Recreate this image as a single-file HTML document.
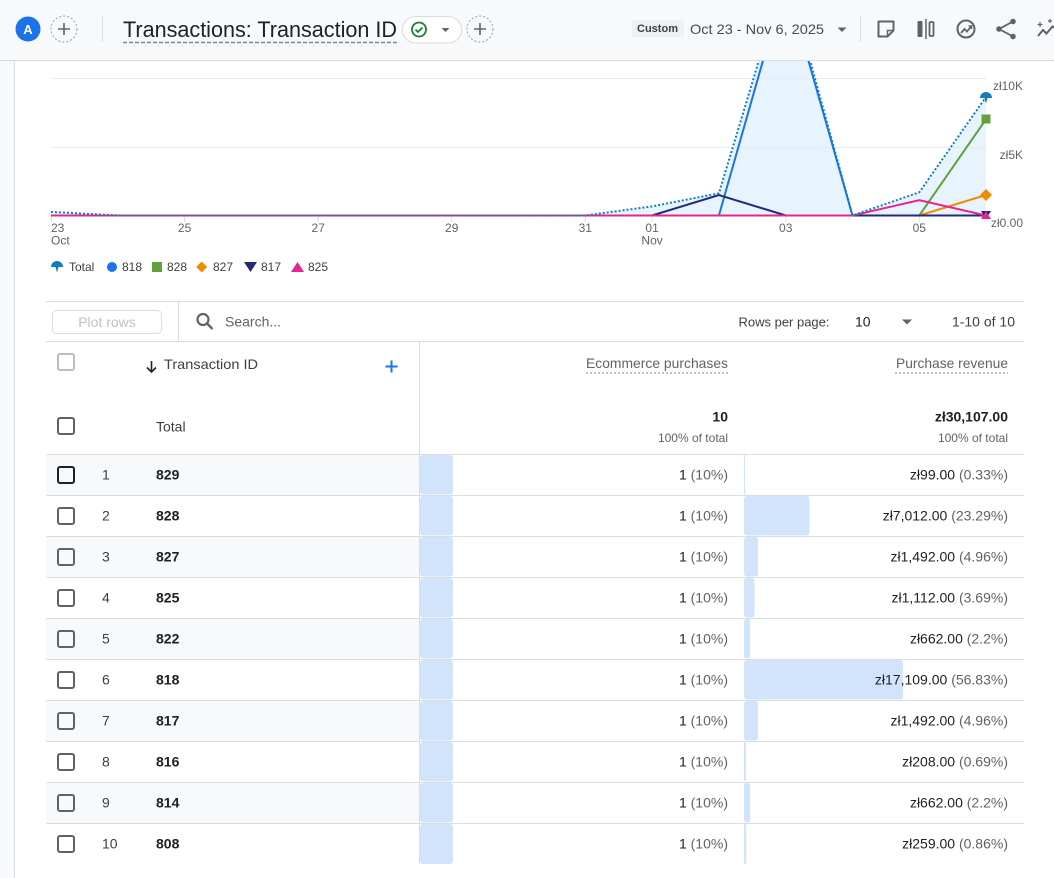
<!DOCTYPE html>
<html><head><meta charset="utf-8"><style>
html,body{margin:0;padding:0;background:#fff;}
svg{display:block;font-family:"Liberation Sans",Arial,sans-serif;}
</style></head><body>
<svg width="1054" height="878" viewBox="0 0 1054 878" xmlns="http://www.w3.org/2000/svg">
<defs><clipPath id="cp"><rect x="15" y="61" width="1039" height="200"/></clipPath></defs>
<!-- backgrounds -->
<rect x="0" y="0" width="1054" height="878" fill="#ffffff"/>
<rect x="0" y="0" width="1054" height="60" fill="#f8f9fa"/>
<rect x="0" y="60" width="14" height="818" fill="#f8f9fa"/>
<line x1="0" y1="60.5" x2="1054" y2="60.5" stroke="#d9dbdf" stroke-width="1"/>
<line x1="14.5" y1="61" x2="14.5" y2="878" stroke="#dadce0" stroke-width="1"/>

<!-- header -->
<circle cx="28" cy="29" r="12.5" fill="#1a73e8"/>
<text x="28" y="34" font-size="13" font-weight="bold" fill="#fff" text-anchor="middle">A</text>
<circle cx="64" cy="29" r="13" fill="none" stroke="#9aa0a6" stroke-width="1" stroke-dasharray="2 2"/>
<path d="M58 29h12M64 23v12" stroke="#5f6368" stroke-width="1.6"/>
<line x1="102.5" y1="16" x2="102.5" y2="42" stroke="#dadce0"/>
<text x="123" y="37" font-size="22" fill="#202124" textLength="274" lengthAdjust="spacingAndGlyphs">Transactions: Transaction ID</text>
<line x1="123" y1="42.5" x2="397" y2="42.5" stroke="#80868b" stroke-width="1.5" stroke-dasharray="4 2"/>
<rect x="402.5" y="16.5" width="59" height="26.5" rx="13.25" fill="#fff" stroke="#dadce0"/>
<circle cx="419" cy="29.5" r="7" fill="none" stroke="#188038" stroke-width="1.8"/>
<path d="M415.5 29.5l2.5 2.5 4.5-4.5" fill="none" stroke="#188038" stroke-width="1.8"/>
<path d="M441.5 28h8l-4 4z" fill="#5f6368"/>
<circle cx="480" cy="29" r="13" fill="none" stroke="#9aa0a6" stroke-width="1" stroke-dasharray="2 2"/>
<path d="M474 29h12M480 23v12" stroke="#5f6368" stroke-width="1.6"/>

<rect x="632" y="20" width="52" height="17" fill="#eef0f2"/>
<text x="637" y="32" font-size="11" font-weight="bold" fill="#3c4043" textLength="41" lengthAdjust="spacingAndGlyphs">Custom</text>
<text x="690" y="34" font-size="14" fill="#474a4e" textLength="134" lengthAdjust="spacingAndGlyphs">Oct 23 - Nov 6, 2025</text>
<path d="M837.5 27.5h9l-4.5 4.5z" fill="#5f6368"/>
<line x1="860.5" y1="16" x2="860.5" y2="42" stroke="#dadce0"/>
<!-- icon note -->
<path d="M878.5 21.5h15v9l-6 6h-9z" fill="none" stroke="#5f6368" stroke-width="2" stroke-linejoin="round"/>
<path d="M893.5 30.5h-6v6" fill="none" stroke="#5f6368" stroke-width="1.5"/>
<!-- icon compare -->
<rect x="917.5" y="21" width="5" height="16" rx="1" fill="#5f6368"/>
<line x1="926" y1="19" x2="926" y2="39" stroke="#5f6368" stroke-width="1.5"/>
<rect x="929.5" y="22" width="4" height="14" rx="1" fill="none" stroke="#5f6368" stroke-width="1.8"/>
<!-- icon insights circle -->
<circle cx="966" cy="29" r="8.5" fill="none" stroke="#5f6368" stroke-width="2"/>
<path d="M961 33l3.5-4 2.5 2.5 4-5" fill="none" stroke="#5f6368" stroke-width="1.8"/>
<path d="M968.5 26h3v3" fill="none" stroke="#5f6368" stroke-width="1.6"/>
<!-- share -->
<circle cx="1013" cy="21.5" r="2.8" fill="#5f6368"/>
<circle cx="999" cy="29" r="2.8" fill="#5f6368"/>
<circle cx="1013" cy="36.5" r="2.8" fill="#5f6368"/>
<path d="M1013 21.5L999 29l14 7.5" fill="none" stroke="#5f6368" stroke-width="1.8"/>
<!-- sparkle line -->
<path d="M1038 36l5-6 3.5 3.5 6-7 3 2" fill="none" stroke="#5f6368" stroke-width="2"/>
<path d="M1040 22v5M1037.5 24.5h5M1050 19v4M1048 21h4" stroke="#5f6368" stroke-width="1.2"/>

<!-- chart -->
<g clip-path="url(#cp)">
<polygon fill="#e8f4fd" points="51,211.9 117.8,215.5 585.3,215.5 652.1,206.4 718.9,193.3 785.7,-28.3 852.5,215.5 919.3,192.3 986,97 986,215.5 51,215.5"/>
<line x1="51" y1="78.5" x2="986" y2="78.5" stroke="#e8eaed"/>
<line x1="51" y1="147.5" x2="986" y2="147.5" stroke="#e8eaed"/>
<g stroke="#dadce0" stroke-width="1">
<line x1="51.5" y1="216" x2="51.5" y2="222"/><line x1="184.6" y1="216" x2="184.6" y2="222"/><line x1="318.2" y1="216" x2="318.2" y2="222"/><line x1="451.7" y1="216" x2="451.7" y2="222"/><line x1="585.3" y1="216" x2="585.3" y2="222"/><line x1="652.1" y1="216" x2="652.1" y2="222"/><line x1="785.7" y1="216" x2="785.7" y2="222"/><line x1="919.3" y1="216" x2="919.3" y2="222"/>
</g>
<polyline fill="none" stroke="#63a03d" stroke-width="2" points="51,215.5 919.3,215.5 986,119.3"/>
<polyline fill="none" stroke="#ef8c00" stroke-width="2" points="51,215.5 919.3,215.5 986,195"/>
<polyline fill="none" stroke="#1a73e8" stroke-width="2" points="51,215.5 718.9,215.5 785.7,-19.2 852.5,215.5 986,215.5"/>
<polyline fill="none" stroke="#202a78" stroke-width="2" points="51,215.5 652.1,215.5 718.9,195 785.7,215.5 986,215.5"/>
<polyline fill="none" stroke="#e52592" stroke-width="2" points="51,215.5 852.5,215.5 919.3,200.2 986,215.5"/>
<polyline fill="none" stroke="#127eb8" stroke-width="2" stroke-dasharray="2 2" points="51,211.9 117.8,215.5 585.3,215.5 652.1,206.4 718.9,193.3 785.7,-28.3 852.5,215.5 919.3,192.3 986,97"/>
</g>
<!-- markers -->
<path d="M980 98A6 6 0 0 1 992 98L987.5 98 986 103.5 984.5 98Z" fill="#127eb8"/>
<rect x="981.5" y="114.5" width="9" height="9" fill="#63a03d"/>
<path d="M986 189l6 6-6 6-6-6z" fill="#ef8c00"/>
<path d="M981 211h10l-5 8z" fill="#202a78"/>
<path d="M981 219h10l-5-8z" fill="#e52592"/>

<!-- axis labels -->
<g font-size="12" fill="#5f6368">
<text x="1023" y="90" text-anchor="end">zł10K</text>
<text x="1023" y="159" text-anchor="end">zł5K</text>
<text x="1023" y="227" text-anchor="end">zł0.00</text>
<text x="51" y="232">23</text>
<text x="51" y="244.5">Oct</text>
<text x="184.6" y="232" text-anchor="middle">25</text>
<text x="318.2" y="232" text-anchor="middle">27</text>
<text x="451.7" y="232" text-anchor="middle">29</text>
<text x="585.3" y="232" text-anchor="middle">31</text>
<text x="652.1" y="232" text-anchor="middle">01</text>
<text x="652.1" y="244.5" text-anchor="middle">Nov</text>
<text x="785.7" y="232" text-anchor="middle">03</text>
<text x="919.3" y="232" text-anchor="middle">05</text>
</g>
<!-- legend -->
<path d="M51 267A6 6 0 0 1 63 267L58.5 267 57 272.5 55.5 267Z" fill="#127eb8"/>
<circle cx="112" cy="267" r="5" fill="#1a73e8"/>
<rect x="152" y="262" width="10" height="10" fill="#63a03d"/>
<path d="M201.7 261.5l5.5 5.5-5.5 5.5-5.5-5.5z" fill="#ef8c00"/>
<path d="M244 262h13l-6.5 10z" fill="#202a78"/>
<path d="M291 272h13l-6.5-10z" fill="#e52592"/>
<g font-size="12" fill="#3c4043">
<text x="69" y="271">Total</text>
<text x="122" y="271">818</text>
<text x="167" y="271">828</text>
<text x="213" y="271">827</text>
<text x="261" y="271">817</text>
<text x="308" y="271">825</text>
</g>

<!-- table toolbar -->
<line x1="46" y1="301.5" x2="1024" y2="301.5" stroke="#dadce0"/>
<line x1="46" y1="341.5" x2="1024" y2="341.5" stroke="#dadce0"/>
<line x1="178.5" y1="302" x2="178.5" y2="341" stroke="#dadce0"/>
<rect x="52.5" y="310.5" width="109" height="23" rx="4" fill="#fff" stroke="#dadce0"/>
<text x="107" y="327" font-size="14" fill="#bdc1c6" text-anchor="middle">Plot rows</text>
<circle cx="203" cy="319.5" r="5.5" fill="none" stroke="#5f6368" stroke-width="2.2"/>
<line x1="207" y1="323.5" x2="212.5" y2="329" stroke="#5f6368" stroke-width="2.4"/>
<text x="225" y="326.5" font-size="14" fill="#5f6368">Search...</text>
<text x="738.5" y="326.5" font-size="13" fill="#3c4043" textLength="91" lengthAdjust="spacingAndGlyphs">Rows per page:</text>
<text x="855" y="326.5" font-size="14" fill="#202124">10</text>
<path d="M902 319.5h10l-5 5z" fill="#5f6368"/>
<text x="1015" y="326.5" font-size="14" fill="#3c4043" text-anchor="end">1-10 of 10</text>

<!-- header row -->
<line x1="419.5" y1="342" x2="419.5" y2="864" stroke="#dadce0"/>
<rect x="58" y="354" width="16" height="16" rx="2" fill="none" stroke="#bdbdbd" stroke-width="2"/>
<path d="M151.5 361v11M147 367.5l4.5 4.5 4.5-4.5" fill="none" stroke="#202124" stroke-width="1.6"/>
<text x="164" y="369" font-size="14" fill="#3c4043" textLength="94" lengthAdjust="spacingAndGlyphs">Transaction ID</text>
<path d="M385.5 366.5h12M391.5 360.5v12" stroke="#1a73e8" stroke-width="2"/>
<text x="728" y="368" font-size="14" fill="#5f6368" text-anchor="end" textLength="142" lengthAdjust="spacingAndGlyphs">Ecommerce purchases</text>
<line x1="586" y1="373" x2="728" y2="373" stroke="#80868b" stroke-dasharray="2 2"/>
<text x="1008" y="368" font-size="14" fill="#5f6368" text-anchor="end" textLength="112" lengthAdjust="spacingAndGlyphs">Purchase revenue</text>
<line x1="895" y1="373" x2="1008" y2="373" stroke="#80868b" stroke-dasharray="2 2"/>

<rect x="58" y="418" width="16" height="16" rx="2" fill="none" stroke="#5f6368" stroke-width="2"/>
<text x="156" y="431.5" font-size="14" fill="#3c4043">Total</text>
<text x="728" y="421.5" font-size="14" font-weight="bold" fill="#202124" text-anchor="end">10</text>
<text x="728" y="442" font-size="12" fill="#5f6368" text-anchor="end">100% of total</text>
<text x="1008" y="421.5" font-size="14" font-weight="bold" fill="#202124" text-anchor="end">zł30,107.00</text>
<text x="1008" y="442" font-size="12" fill="#5f6368" text-anchor="end">100% of total</text>
<line x1="46" y1="454.5" x2="1024" y2="454.5" stroke="#dadce0"/>

<!-- rows -->
<g>
<rect x="46" y="455" width="373" height="40" fill="#f8f9fa"/>
<rect x="46" y="537" width="373" height="40" fill="#f8f9fa"/>
<rect x="46" y="619" width="373" height="40" fill="#f8f9fa"/>
<rect x="46" y="701" width="373" height="40" fill="#f8f9fa"/>
<rect x="46" y="783" width="373" height="40" fill="#f8f9fa"/>
</g>
<g fill="#d2e3fc">
<rect x="420" y="455" width="33" height="39.5" rx="3"/>
<rect x="420" y="496" width="33" height="39.5" rx="3"/>
<rect x="420" y="537" width="33" height="39.5" rx="3"/>
<rect x="420" y="578" width="33" height="39.5" rx="3"/>
<rect x="420" y="619" width="33" height="39.5" rx="3"/>
<rect x="420" y="660" width="33" height="39.5" rx="3"/>
<rect x="420" y="701" width="33" height="39.5" rx="3"/>
<rect x="420" y="742" width="33" height="39.5" rx="3"/>
<rect x="420" y="783" width="33" height="39.5" rx="3"/>
<rect x="420" y="824" width="33" height="40" rx="3"/>

<rect x="744" y="455" width="1" height="39.5"/>
<rect x="744" y="496" width="65.5" height="39.5" rx="3"/>
<rect x="744" y="537" width="14" height="39.5" rx="3"/>
<rect x="744" y="578" width="10.5" height="39.5" rx="3"/>
<rect x="744" y="619" width="6.2" height="39.5" rx="2.5"/>
<rect x="744" y="660" width="159" height="39.5" rx="3"/>
<rect x="744" y="701" width="14" height="39.5" rx="3"/>
<rect x="744" y="742" width="2" height="39.5" rx="1"/>
<rect x="744" y="783" width="6.2" height="39.5" rx="2.5"/>
<rect x="744" y="824" width="2.4" height="40" rx="1.2"/>
</g>
<g stroke="#dadce0">
<line x1="46" y1="495.5" x2="1024" y2="495.5"/>
<line x1="46" y1="536.5" x2="1024" y2="536.5"/>
<line x1="46" y1="577.5" x2="1024" y2="577.5"/>
<line x1="46" y1="618.5" x2="1024" y2="618.5"/>
<line x1="46" y1="659.5" x2="1024" y2="659.5"/>
<line x1="46" y1="700.5" x2="1024" y2="700.5"/>
<line x1="46" y1="741.5" x2="1024" y2="741.5"/>
<line x1="46" y1="782.5" x2="1024" y2="782.5"/>
<line x1="46" y1="823.5" x2="1024" y2="823.5"/>
</g>
<g fill="none" stroke="#5f6368" stroke-width="2">
<rect x="58" y="467" width="16" height="16" rx="2" stroke="#202124"/>
<rect x="58" y="508" width="16" height="16" rx="2"/>
<rect x="58" y="549" width="16" height="16" rx="2"/>
<rect x="58" y="590" width="16" height="16" rx="2"/>
<rect x="58" y="631" width="16" height="16" rx="2"/>
<rect x="58" y="672" width="16" height="16" rx="2"/>
<rect x="58" y="713" width="16" height="16" rx="2"/>
<rect x="58" y="754" width="16" height="16" rx="2"/>
<rect x="58" y="795" width="16" height="16" rx="2"/>
<rect x="58" y="836" width="16" height="16" rx="2"/>
</g>
<g font-size="14" fill="#3c4043">
<text x="102" y="479.5">1</text>
<text x="102" y="520.5">2</text>
<text x="102" y="561.5">3</text>
<text x="102" y="602.5">4</text>
<text x="102" y="643.5">5</text>
<text x="102" y="684.5">6</text>
<text x="102" y="725.5">7</text>
<text x="102" y="766.5">8</text>
<text x="102" y="807.5">9</text>
<text x="102" y="848.5">10</text>
</g>
<g font-size="14" font-weight="bold" fill="#202124">
<text x="156" y="479.5">829</text>
<text x="156" y="520.5">828</text>
<text x="156" y="561.5">827</text>
<text x="156" y="602.5">825</text>
<text x="156" y="643.5">822</text>
<text x="156" y="684.5">818</text>
<text x="156" y="725.5">817</text>
<text x="156" y="766.5">816</text>
<text x="156" y="807.5">814</text>
<text x="156" y="848.5">808</text>
</g>
<g font-size="14" fill="#202124" text-anchor="end">
<text x="728" y="479.5">1 <tspan fill="#5f6368">(10%)</tspan></text>
<text x="728" y="520.5">1 <tspan fill="#5f6368">(10%)</tspan></text>
<text x="728" y="561.5">1 <tspan fill="#5f6368">(10%)</tspan></text>
<text x="728" y="602.5">1 <tspan fill="#5f6368">(10%)</tspan></text>
<text x="728" y="643.5">1 <tspan fill="#5f6368">(10%)</tspan></text>
<text x="728" y="684.5">1 <tspan fill="#5f6368">(10%)</tspan></text>
<text x="728" y="725.5">1 <tspan fill="#5f6368">(10%)</tspan></text>
<text x="728" y="766.5">1 <tspan fill="#5f6368">(10%)</tspan></text>
<text x="728" y="807.5">1 <tspan fill="#5f6368">(10%)</tspan></text>
<text x="728" y="848.5">1 <tspan fill="#5f6368">(10%)</tspan></text>

<text x="1008" y="479.5">zł99.00 <tspan fill="#5f6368">(0.33%)</tspan></text>
<text x="1008" y="520.5">zł7,012.00 <tspan fill="#5f6368">(23.29%)</tspan></text>
<text x="1008" y="561.5">zł1,492.00 <tspan fill="#5f6368">(4.96%)</tspan></text>
<text x="1008" y="602.5">zł1,112.00 <tspan fill="#5f6368">(3.69%)</tspan></text>
<text x="1008" y="643.5">zł662.00 <tspan fill="#5f6368">(2.2%)</tspan></text>
<text x="1008" y="684.5">zł17,109.00 <tspan fill="#5f6368">(56.83%)</tspan></text>
<text x="1008" y="725.5">zł1,492.00 <tspan fill="#5f6368">(4.96%)</tspan></text>
<text x="1008" y="766.5">zł208.00 <tspan fill="#5f6368">(0.69%)</tspan></text>
<text x="1008" y="807.5">zł662.00 <tspan fill="#5f6368">(2.2%)</tspan></text>
<text x="1008" y="848.5">zł259.00 <tspan fill="#5f6368">(0.86%)</tspan></text>
</g>
</svg>
</body></html>
